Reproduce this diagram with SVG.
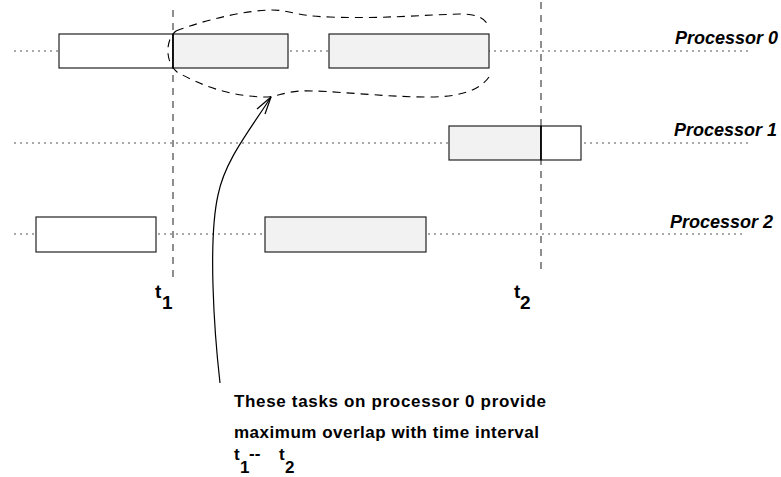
<svg xmlns="http://www.w3.org/2000/svg" width="781" height="477" viewBox="0 0 781 477">
<style>
.dot{stroke:#555;stroke-width:1.2;stroke-dasharray:2 4;fill:none}
.vdash{stroke:#444;stroke-width:1.2;stroke-dasharray:7 6;fill:none}
.task{stroke:#222;stroke-width:1.2;fill:#fff}
.busy{stroke:#222;stroke-width:1.2;fill:#f2f2f2}
.lbl{font-family:"Liberation Sans",Arial,sans-serif;font-weight:bold;font-style:italic;font-size:18px;fill:#000}
.t{font-family:"Liberation Sans",Arial,sans-serif;font-weight:bold;font-size:19px;fill:#000}
.note{font-family:"Liberation Sans",Arial,sans-serif;font-weight:bold;font-size:17px;fill:#000}
</style>
<g id="timelines">
<line class="dot" x1="14" y1="51" x2="750" y2="51"/>
<line class="dot" x1="14" y1="143" x2="750" y2="143"/>
<line class="dot" x1="14" y1="234" x2="745" y2="234"/>
</g>
<g id="time-markers">
<line class="vdash" x1="173" y1="10" x2="173" y2="279"/>
<line class="vdash" x1="541" y1="2" x2="541" y2="272"/>
</g>
<g id="p0-task1"><rect class="task" x="59" y="34" width="114" height="34"/></g>
<g id="p0-task2"><rect class="busy" x="173" y="34" width="115" height="34"/></g>
<g id="p0-task3"><rect class="busy" x="329" y="34" width="160" height="34"/></g>
<g id="p1-task"><rect class="busy" x="449" y="126" width="92" height="34"/><rect class="task" x="541" y="126" width="40" height="34"/><line x1="541" y1="126" x2="541" y2="160" stroke="#000" stroke-width="1.6"/></g>
<g id="p2-task1"><rect class="task" x="36" y="217" width="120" height="35"/></g>
<g id="p2-task2"><rect class="busy" x="265" y="217" width="161" height="35"/></g>
<line x1="173" y1="34" x2="173" y2="68" stroke="#000" stroke-width="1.6"/>
<g id="overlap-region">
<path d="M176,31 C210,18 250,10 272,10 C290,10 295,16 330,17 C380,19 420,15 460,14 C480,14 486,20 489,27 M489,77 C480,90 460,97 430,97 C380,97 330,90 300,91 C285,92 278,96 268,97 C230,97 200,85 177,72 C165,62 165,40 176,31" fill="none" stroke="#000" stroke-width="1.1" stroke-dasharray="8 6"/>
</g>
<g id="connectors">
<path d="M220,383 C214,330 208,240 218,195 C225,160 250,130 271,97" fill="none" stroke="#000" stroke-width="1.2"/>
<line x1="271" y1="97" x2="257" y2="109" stroke="#000" stroke-width="1.2"/>
<line x1="271" y1="97" x2="265" y2="114" stroke="#000" stroke-width="1.2"/>
</g>
<g id="labels">
<text class="lbl" x="778" y="44" text-anchor="end">Processor 0</text>
<text class="lbl" x="777" y="136" text-anchor="end">Processor 1</text>
<text class="lbl" x="773" y="228" text-anchor="end">Processor 2</text>
<text class="t" x="155" y="298">t</text><text class="t" x="162" y="309" font-size="17">1</text>
<text class="t" x="514" y="298">t</text><text class="t" x="520" y="309" font-size="17">2</text>
</g>
<g id="note">
<text class="note" x="234" y="407" textLength="312">These tasks on processor 0 provide</text>
<text class="note" x="234" y="438" textLength="305">maximum overlap with time interval</text>
<text class="note" x="234" y="460" font-size="18">t</text><text class="note" x="240" y="473" font-size="16">1</text>
<text class="note" x="249" y="459">--</text>
<text class="note" x="279" y="460" font-size="18">t</text><text class="note" x="285" y="473" font-size="16">2</text>
</g>
</svg>
